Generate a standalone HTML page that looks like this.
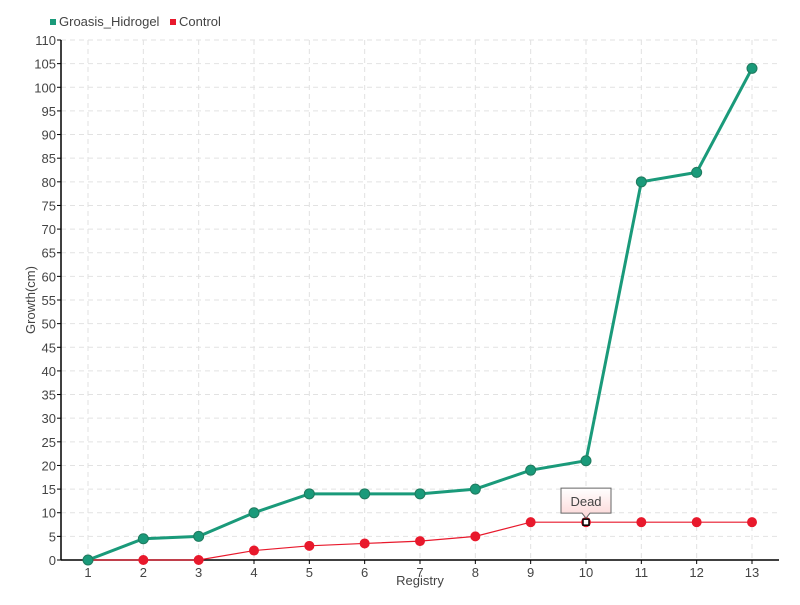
<!DOCTYPE html>
<html><head><meta charset="utf-8"><style>
body{margin:0;background:#fff;}
svg text{font-family:"Liberation Sans",sans-serif;fill:#444;}
</style></head><body>
<svg id="c" width="800" height="600" xmlns="http://www.w3.org/2000/svg">
<g>
<rect x="50" y="19" width="6" height="6" fill="#1a9a7a"/>
<text x="59" y="26" font-size="13">Groasis_Hidrogel</text>
<rect x="170" y="19" width="6" height="6" fill="#e8192c"/>
<text x="179" y="26" font-size="13">Control</text>
</g>
<g id="grid"></g><g id="axes"></g><g id="series"></g>
<text x="420" y="585" font-size="13" text-anchor="middle">Registry</text>
<text transform="translate(35,300) rotate(-90)" font-size="13" text-anchor="middle">Growth(cm)</text>
</svg>
<script>
const categories=[1,2,3,4,5,6,7,8,9,10,11,12,13];
const groasis=[0,4.5,5,10,14,14,14,15,19,21,80,82,104];
const control=[0,0,0,2,3,3.5,4,5,8,8,8,8,8];
const yTicks=[0,5,10,15,20,25,30,35,40,45,50,55,60,65,70,75,80,85,90,95,100,105,110];
const NS="http://www.w3.org/2000/svg";
const L=61,R=779,T=40,B=560;
const x=i=>88+(752-88)*i/(categories.length-1);
const y=v=>B-(B-T)*v/110;
function mk(t,a,p){const e=document.createElementNS(NS,t);for(const k in a)e.setAttribute(k,a[k]);p.appendChild(e);return e;}
const grid=document.getElementById('grid'),axes=document.getElementById('axes'),ser=document.getElementById('series');
yTicks.forEach(v=>{
 if(v>0){const g=mk('line',{x1:L,x2:R,y1:y(v),y2:y(v),stroke:'#e2e2e2','stroke-dasharray':'5,4'},grid);
 
 }
 const tk=mk('line',{x1:L-4,x2:L,y1:y(v),y2:y(v),stroke:'#000'},axes);
 
 
 const t=mk('text',{x:L-5,y:y(v)+5,'font-size':13,'text-anchor':'end'},axes);t.textContent=v;
 
 
});
categories.forEach((c,i)=>{
 const g=mk('line',{x1:x(i),x2:x(i),y1:T,y2:B,stroke:'#e2e2e2','stroke-dasharray':'5,4'},grid);
 
 
 const tk=mk('line',{x1:x(i),x2:x(i),y1:B,y2:B+4,stroke:'#000'},axes);
 
 
 const t=mk('text',{x:x(i),y:B+17,'font-size':13,'text-anchor':'middle'},axes);t.textContent=c;
 
 
});
const ya=mk('line',{x1:L,x2:L,y1:T,y2:B,stroke:'#000','stroke-width':1.5},axes);


const xa=mk('line',{x1:L,x2:R,y1:B,y2:B,stroke:'#000','stroke-width':1.5},axes);


function series(vals,col,w,r,name,stroke){
 const pl=mk('polyline',{points:vals.map((v,i)=>x(i)+','+y(v)).join(' '),fill:'none',stroke:col,'stroke-width':w},ser);
 
 
 vals.forEach((v,i)=>{const c=mk('circle',{cx:x(i),cy:y(v),r:r,fill:col,stroke:stroke,'stroke-width':1},ser);
 
 });
}
series(control,'#e8192c',1.2,4.5,'control','#e8192c');
series(groasis,'#1a9a7a',3,5,'groasis','#1f7a5e');
const ti=9,tx=x(ti),ty=y(control[ti]);
const tip=mk('g',{},ser);


mk('defs',{},tip).innerHTML='<linearGradient id="tg" x1="0" y1="0" x2="0" y2="1"><stop offset="0" stop-color="#fff"/><stop offset="1" stop-color="#fcd6d6"/></linearGradient>';
mk('path',{d:`M${tx-25},${ty-34} h50 v25 h-21 l-4,5 l-4,-5 h-21 z`,fill:'url(#tg)',stroke:'#666'},tip);
const tt=mk('text',{x:tx,y:ty-16,'font-size':13,'text-anchor':'middle'},tip);tt.textContent='Dead';
mk('rect',{x:tx-3,y:ty-3,width:6,height:6,fill:'#fff',stroke:'#000','stroke-width':1.5},tip);
</script>
</body></html>
